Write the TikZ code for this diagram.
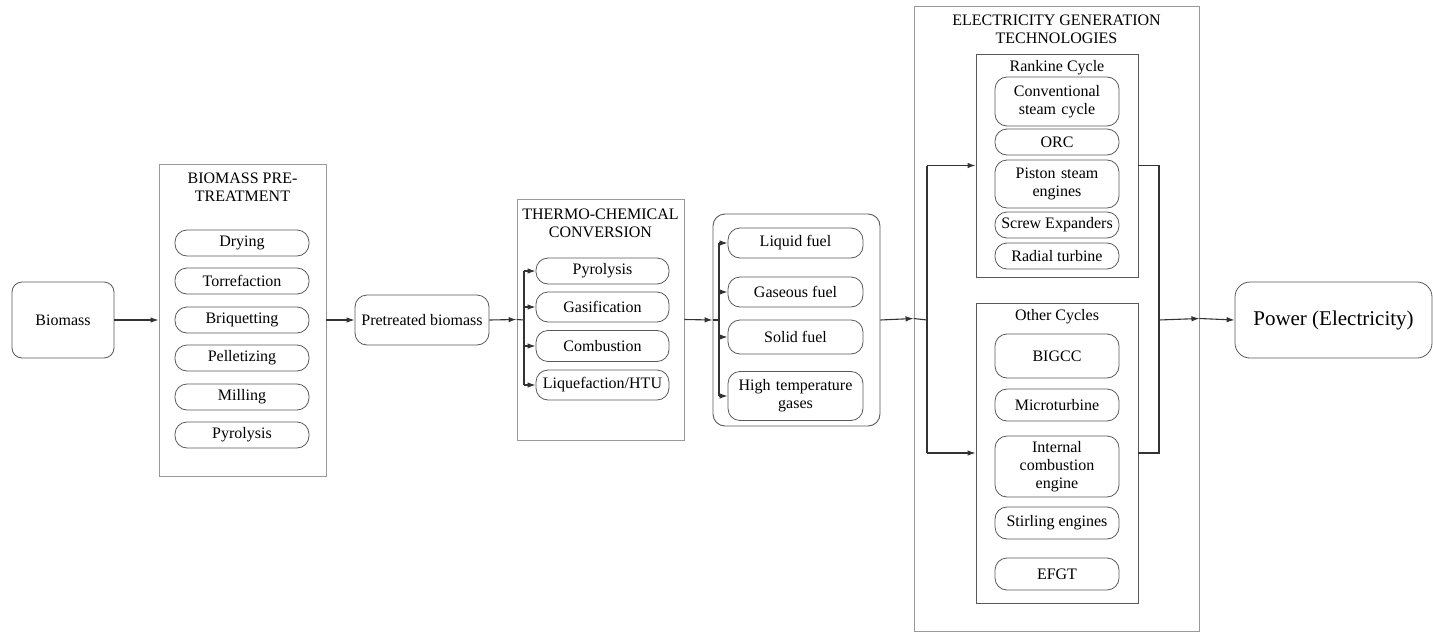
\documentclass[tikz,border=0pt]{standalone}
\usepackage{fontspec}
\setmainfont{Liberation Serif}
\newfontfamily\tnr{Liberation Serif}
\usetikzlibrary{arrows.meta}
\begin{document}
\begin{tikzpicture}[x=1pt,y=-1pt,
  txt/.style={font=\tnr\fontsize{16}{18}\selectfont},
  outer/.style={draw=black!40, line width=0.9pt, inner sep=0pt},
  inner/.style={draw=black!65, line width=0.9pt, inner sep=0pt},
  item/.style={draw=black!65, line width=0.8pt, rounded corners=12pt, align=center, inner sep=1pt, txt},
  title/.style={align=center, inner sep=0pt, txt},
  conn/.style={draw=black!80, line width=1.1pt},
  arr/.style={conn, -{Latex[length=8pt,width=5.5pt]}}
]
\useasboundingbox (0,0) rectangle (1433,632);
% Biomass
\node[item, rounded corners=10pt, minimum width=102pt, minimum height=76pt] (bio) at (63,320) {Biomass};
% Pretreatment
\node[outer, minimum width=167pt, minimum height=312pt] (pre) at (242.5,320) {};
\node[title] (pret) at (242.5,187) {BIOMASS PRE-\\TREATMENT};
\foreach \n/\t/\y in {dry/Drying/243,tor/Torrefaction/281,bri/Briquetting/320,pel/Pelletizing/358,mil/Milling/397,pyr/Pyrolysis/435}
  \node[item, minimum width=134pt, minimum height=26pt] (\n) at (242,\y) {\t};
% Pretreated biomass
\node[item, minimum width=134pt, minimum height=50pt] (ptb) at (422,320) {Pretreated biomass};
% Thermo-chemical
\node[outer, minimum width=167pt, minimum height=241pt] (thc) at (600.5,319.5) {};
\node[title] (thct) at (600.5,223) {THERMO-CHEMICAL\\CONVERSION};
\node[item, minimum width=133pt, minimum height=26pt] (tpy) at (602.5,271) {Pyrolysis};
\node[item, minimum width=133pt, minimum height=30pt] (tga) at (602.5,307) {Gasification};
\node[item, minimum width=133pt, minimum height=31pt] (tco) at (602.5,346) {Combustion};
\node[item, minimum width=133pt, minimum height=30pt] (tli) at (602.5,385) {Liquefaction/HTU};
% Fuels
\node[inner, rounded corners=12pt, minimum width=167pt, minimum height=212pt] (fuel) at (796.5,320) {};
\node[item, minimum width=135pt, minimum height=30pt] (liq) at (795.5,243) {Liquid fuel};
\node[item, minimum width=135pt, minimum height=30pt] (gas) at (795.5,292) {Gaseous fuel};
\node[item, minimum width=135pt, minimum height=34pt] (sol) at (795.5,337) {Solid fuel};
\node[item, minimum width=135pt, minimum height=49pt, text width=125pt] (hig) at (795.5,396) {High temperature\\gases};
% Electricity generation
\node[outer, minimum width=285pt, minimum height=625pt] (ele) at (1056.5,318.5) {};
\node[title] (elet) at (1056.5,29) {ELECTRICITY GENERATION\\TECHNOLOGIES};
\node[inner, minimum width=162pt, minimum height=223pt] (ran) at (1057,165.5) {};
\node[title] (rant) at (1057,68) {Rankine Cycle};
\node[item, minimum width=124pt, minimum height=49pt, text width=118pt] (con) at (1057,101.5) {Conventional\\steam cycle};
\node[item, minimum width=124pt, minimum height=26pt] (orc) at (1057,142) {ORC};
\node[item, minimum width=124pt, minimum height=48pt, text width=118pt] (pis) at (1057,184) {Piston steam\\engines};
\node[item, minimum width=124pt, minimum height=26pt, inner sep=0pt] (scr) at (1057,225) {Screw Expanders};
\node[item, minimum width=124pt, minimum height=26pt] (rad) at (1057,256) {Radial turbine};
\node[inner, minimum width=162pt, minimum height=300pt] (oth) at (1057,453) {};
\node[title] (otht) at (1057,317) {Other Cycles};
\node[item, minimum width=124pt, minimum height=44pt] (big) at (1057,356) {BIGCC};
\node[item, minimum width=124pt, minimum height=32pt] (mic) at (1057,405) {Microturbine};
\node[item, minimum width=124pt, minimum height=61pt, text width=118pt] (ice) at (1057,466.5) {Internal\\combustion\\engine};
\node[item, minimum width=124pt, minimum height=32pt] (sti) at (1057,523) {Stirling engines};
\node[item, minimum width=124pt, minimum height=32pt] (efg) at (1057,574) {EFGT};
% Power
\node[item, rounded corners=15pt, minimum width=197pt, minimum height=76pt, font=\tnr\fontsize{21}{24}\selectfont] (pow) at (1333.5,320) {Power (Electricity)};
% coordinates
\coordinate (t1) at (524,320);
\coordinate (f1) at (719,320);
\coordinate (e1) at (927,320);
\coordinate (r1) at (1159,320);
% connectors
\draw[arr] (bio.east) -- (pre.west);
\draw[arr] (pre.east) -- (ptb.west);
\draw[arr] (ptb.east) -- (thc.west);
\draw[conn] (thc.west) -- (t1);
\draw[conn] (t1 |- tpy.west) -- (t1 |- tli.west);
\foreach \n in {tpy,tga,tco,tli} \draw[arr] (t1 |- \n.west) -- (\n.west);
\draw[arr] (thc.east) -- (fuel.west);
\draw[conn] (fuel.west) -- (f1);
\draw[conn] (f1 |- liq.west) -- (f1 |- hig.west);
\foreach \n in {liq,gas,sol,hig} \draw[arr] (f1 |- \n.west) -- (\n.west);
\draw[arr] (fuel.east) -- (ele.west);
\draw[conn] (ele.west) -- (e1);
\draw[conn] (e1 |- ran.west) -- (e1 |- oth.west);
\draw[arr] (e1 |- ran.west) -- (ran.west);
\draw[arr] (e1 |- oth.west) -- (oth.west);
\draw[conn] (ran.east) -| (r1) |- (oth.east);
\draw[arr] (r1) -- (ele.east);
\draw[arr] (ele.east) -- (pow.west);
\end{tikzpicture}
\end{document}
